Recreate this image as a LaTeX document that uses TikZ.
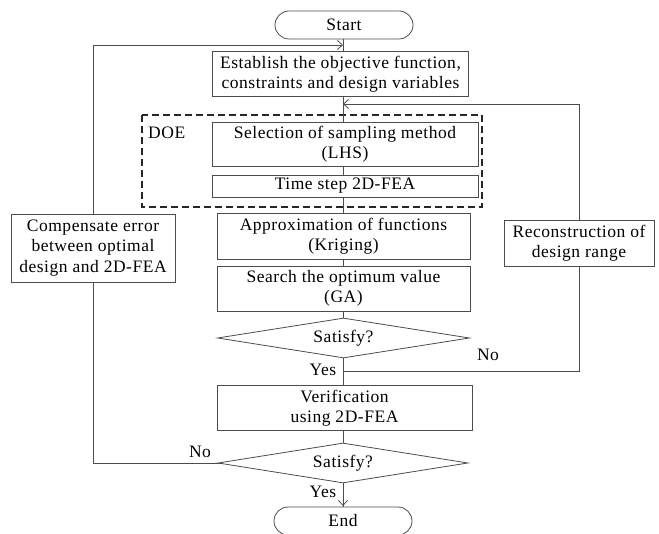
\documentclass[tikz,border=0pt]{standalone}
\usepackage{fontspec}
\setmainfont{Liberation Serif}[LetterSpace=3]
\usetikzlibrary{shapes.geometric,arrows.meta}
\begin{document}
\begin{tikzpicture}[x=1pt,y=-1pt,
  every node/.style={font=\fontsize{17.5}{20.5}\selectfont, text=black},
  box/.style={draw=black!70, line width=0.8pt, rectangle, align=center, inner sep=0pt, fill=white},
  term/.style={draw=black!70, line width=0.8pt, rectangle, rounded corners=14pt, minimum width=138pt, minimum height=28pt, inner sep=0pt, fill=white},
  dec/.style={draw=black!70, line width=0.8pt, diamond, aspect=6.3, inner sep=0pt, fill=white},
  conn/.style={draw=black!70, line width=0.8pt},
  arr/.style={conn, -{Straight Barb[length=5pt,width=9pt]}},
  lbl/.style={inner sep=0pt}
]
\useasboundingbox (0,0) rectangle (659,534);
% DOE dashed frame
\draw[black!85, line width=1.7pt, dash pattern=on 7pt off 4pt] (142,115) rectangle (482,207);
\node[lbl, anchor=west] (doe) at (148,133) {DOE};

% coordinates for loop corners
\coordinate (lt) at (93,45);
\coordinate (lb) at (93,463);
\coordinate (rt) at (579,104);
\coordinate (rb) at (579,371);
\coordinate (jt) at (343,45);
\coordinate (jr) at (343,104);
\coordinate (jy) at (343,371);

% main spine (drawn first, boxes on top)
\draw[conn] (343,38) -- (343,507);
\draw[arr] (343,483) -- (343,506);
% right loop
\draw[conn] (jy) -- (rb) -- (rt);
\draw[arr] (rt) -- (jr);
% left loop
\draw[conn] (343,463) -- (lb) -- (lt);
\draw[arr] (lt) -- (jt);

\node[term] (start) at (344,25) {Start};
\node[box, minimum width=256pt, minimum height=45pt] (est) at (340.5,74) {Establish the objective function,\\constraints and design variables};
\node[box, minimum width=266pt, minimum height=44pt] (sel) at (345,144) {Selection of sampling method\\(LHS)};
\node[box, minimum width=266pt, minimum height=22pt] (fea) at (345,186) {Time step 2D-FEA};
\node[box, minimum width=253pt, minimum height=46pt] (app) at (343.5,236) {Approximation of functions\\(Kriging)};
\node[box, minimum width=253pt, minimum height=45pt] (srch) at (343.5,288.5) {Search the optimum value\\(GA)};
\node[dec, minimum width=252pt, minimum height=40pt] (d1) at (343.5,338) {Satisfy?};
\node[box, minimum width=255pt, minimum height=45pt] (ver) at (344.5,408) {Verification\\using 2D-FEA};
\node[dec, minimum width=250pt, minimum height=40pt] (d2) at (343,463) {Satisfy?};
\node[term] (end) at (343,521) {End};
\node[box, minimum width=164pt, minimum height=68pt] (comp) at (93,248) {Compensate error\\between optimal\\design and 2D-FEA};
\node[box, minimum width=150pt, minimum height=46pt] (rec) at (579,243) {Reconstruction of\\design range};

\node[lbl] (no1) at (488,355) {No};
\node[lbl] (yes1) at (323,370) {Yes};
\node[lbl] (no2) at (200,452) {No};
\node[lbl] (yes2) at (323,492) {Yes};
\end{tikzpicture}
\end{document}
